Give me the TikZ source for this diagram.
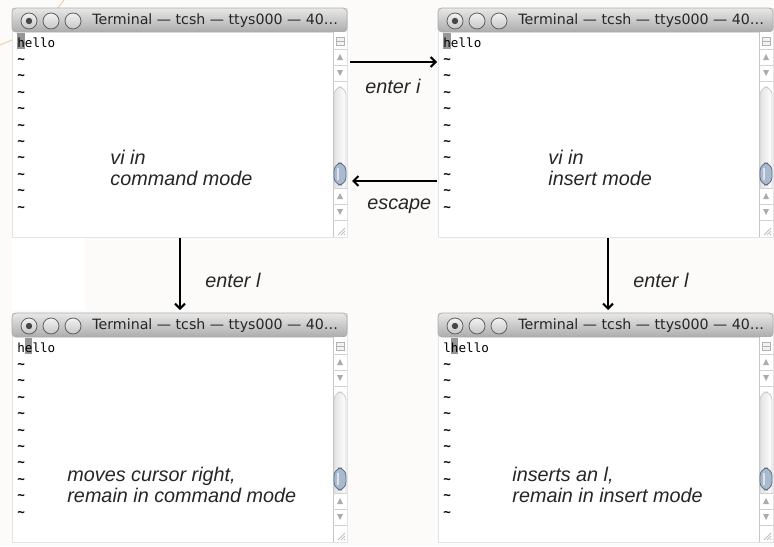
\documentclass[tikz,border=0pt]{standalone}
\usepackage{fontspec}
\setsansfont{Liberation Sans}
\setmonofont{DejaVu Sans Mono}
\newfontfamily\titlefont{DejaVu Sans}
\usetikzlibrary{arrows.meta, calc, positioning}

\definecolor{pagebg}{RGB}{252,251,249}
\definecolor{barhi}{RGB}{232,232,232}
\definecolor{barlo}{RGB}{172,172,172}
\definecolor{thumbfill}{RGB}{170,186,206}
\definecolor{thumbedge}{RGB}{96,112,134}
\definecolor{cursorgray}{RGB}{150,150,150}
\definecolor{slideorange}{RGB}{240,205,170}

\begin{document}
\begin{tikzpicture}[x=0.5pt, y=-0.5pt,
    win/.style={draw=gray!22, fill=white, inner sep=0pt, outer sep=0pt, anchor=north west,
                minimum width=167.5pt, minimum height=114.5pt},
    titlebar/.style={draw=gray!65, top color=barhi, bottom color=barlo, rounded corners=2pt},
    light/.style={circle, draw=gray!75!black, inner sep=0pt, minimum size=8pt,
                  top color=gray!10, bottom color=gray!45},
    wintitle/.style={font=\titlefont\fontsize{7.1}{9}\selectfont, text=black!85, inner sep=0pt},
    termtext/.style={font=\ttfamily\fontsize{6.3}{7}\selectfont, inner sep=0pt, anchor=base west},
    note/.style={font=\sffamily\itshape\fontsize{9.9}{10.5}\selectfont, text=black!85,
                 inner sep=0pt, anchor=base west, align=left},
    flow/.style={line width=1pt, -{Straight Barb[length=2.5pt,width=5pt]}},
    sbline/.style={gray!35},
    sbtri/.style={fill=gray!65}
  ]
  \fill[pagebg] (0,0) rectangle (774,546);
  \useasboundingbox (0,0) rectangle (774,546);
  \fill[white] (12,237) rectangle (85,310);
  \draw[slideorange, line width=0.5pt] (0,45) -- (12,40);
  \draw[slideorange, line width=0.5pt] (64,0) -- (57,9);

  \foreach \n/\x/\y/\word/\cur in {tl/12/8/hello/0, tr/438/8/hello/0, bl/12/313/hello/1, br/438/313/lhello/1}
  {
   \begin{scope}[shift={(\x,\y)}]
    \node[win] (\n) at (0,0) {};
    \path[titlebar] (0,24) -- (0,0) -- (335,0) -- (335,24) -- cycle;
    \node[light] (\n-c1) at (17,13) {};
    \fill[gray!55!black] (\n-c1) circle (1.6pt);
    \node[light] (\n-c2) at (39,13) {};
    \node[light] (\n-c3) at (61,13) {};
    \node[wintitle, anchor=west] (\n-t) at (80,13) {Terminal — tcsh — ttys000 — 40…};
    \fill[cursorgray] (5+7.59*\cur,25) rectangle (5+7.59*\cur+7.59,41);
    \node[termtext] (\n-w) at (5,39) {\word};
    \foreach \k in {1,...,10}
      \node[termtext, font=\ttfamily\bfseries\fontsize{6.3}{7}\selectfont] (\n-l\k) at (5,39+16.4*\k) {\textasciitilde};
    \fill[white] (321,24) rectangle (335,229);
    \draw[gray!45] (321,24) -- (321,229);
    \draw[gray!60, fill=gray!10] (324,29) rectangle (332,37);
    \draw[gray!60] (324,33) -- (332,33);
    \draw[sbline] (321,41) -- (335,41);
    \fill[sbtri] (325,52) -- (331,52) -- (328,46) -- cycle;
    \draw[sbline] (321,57) -- (335,57);
    \fill[sbtri] (325,62) -- (331,62) -- (328,68) -- cycle;
    \draw[sbline] (321,73) -- (335,73);
    \draw[gray!40, left color=gray!22, right color=white, rounded corners=4pt] (322,180) -- (322,79) -- (334,79) -- (334,180);
    \draw[thumbedge, fill=thumbfill, rounded corners=4pt] (322,155) rectangle (334,177);
    \draw[white, opacity=.6, line width=1pt] (326,160) -- (326,172);
    \draw[sbline] (321,180) -- (335,180);
    \fill[sbtri] (325,191) -- (331,191) -- (328,185) -- cycle;
    \draw[sbline] (321,196) -- (335,196);
    \fill[sbtri] (325,201) -- (331,201) -- (328,207) -- cycle;
    \draw[sbline] (321,212) -- (335,212);
    \draw[gray!50] (326,227) -- (333,220) (329,227) -- (333,223) (332,227) -- (333,226);
   \end{scope}
  }

  \node[note] (cmdtxt) at (110,185) {vi in\\command mode};
  \node[note] (instxt) at (548,185) {vi in\\insert mode};
  \node[note] (movetxt) at (67,502) {moves cursor right,\\remain in command mode};
  \node[note] (addtxt) at (512,502) {inserts an l,\\remain in insert mode};

  \draw[flow] ($(tl.north east)+(3,54)$) -- ($(tr.north west)+(-1,54)$);
  \node[note] (ei) at (365,93) {enter i};
  \draw[flow] ($(tr.north west)+(-1,173)$) -- ($(tl.north east)+(5,173)$);
  \node[note] (esc) at (367,209) {escape};
  \draw[flow] ($(tl.south west)+(168,1)$) -- ($(bl.north west)+(168,-3)$);
  \node[note] (el1) at (205,287) {enter l};
  \draw[flow] ($(tr.south west)+(170,1)$) -- ($(br.north west)+(170,-3)$);
  \node[note] (el2) at (633,287) {enter l};
\end{tikzpicture}
\end{document}
